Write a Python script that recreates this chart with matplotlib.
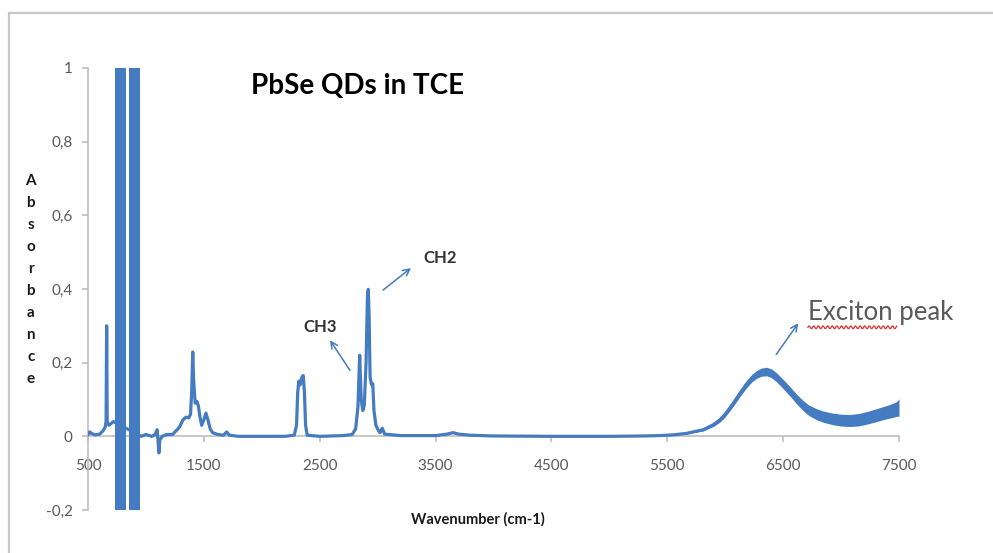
import numpy as np
import matplotlib
matplotlib.use("Agg")
import matplotlib.pyplot as plt
from matplotlib.patches import Rectangle

plt.rcParams['font.family'] = ['Lato', 'DejaVu Sans']

# FTIR spectrum of PbSe QDs in TCE (wavenumber in cm-1, absorbance)
wavenumber = [500, 515, 530, 560, 600, 630, 648, 656, 661, 666, 680, 700, 720,
              960, 1000, 1050, 1080, 1096, 1104, 1112, 1120, 1140, 1180, 1230,
              1260, 1290, 1320, 1345, 1370, 1385, 1395, 1404, 1412, 1425, 1440,
              1452, 1468, 1481, 1500, 1518, 1535, 1555, 1575, 1620, 1670, 1697,
              1720, 1800, 2000, 2200, 2280, 2300, 2310, 2320, 2332, 2345, 2358,
              2368, 2378, 2392, 2500, 2700, 2780, 2810, 2830, 2845, 2858, 2872,
              2885, 2900, 2912, 2919, 2926, 2935, 2948, 2958, 2968, 2985, 3000,
              3020, 3040, 3060, 3200, 3500, 3600, 3650, 3700, 3800, 4000, 4500,
              5000, 5300, 5437, 5550, 5667, 5811, 5900, 5955, 6000, 6070, 6130,
              6185, 6230, 6271, 6310, 6358, 6400, 6444, 6500, 6559, 6620, 6674,
              6720, 6789, 6850, 6933, 7000, 7077, 7150, 7221, 7300, 7364, 7420,
              7470, 7500]
absorbance = [0.005, 0.012, 0.008, 0.004, 0.006, 0.015, 0.025, 0.04, 0.30, 0.04,
              0.03, 0.035, 0.04,
              0.0, 0.005, 0.0, 0.005, 0.018, -0.01, -0.045, -0.01, 0.0, 0.005,
              0.005, 0.015, 0.025, 0.045, 0.052, 0.05, 0.06, 0.12, 0.229, 0.15,
              0.09, 0.095, 0.084, 0.05, 0.03, 0.045, 0.063, 0.045, 0.02, 0.01,
              0.005, 0.003, 0.012, 0.003, 0.0, 0.0, 0.0, 0.003, 0.03, 0.12, 0.15,
              0.14, 0.16, 0.165, 0.12, 0.03, 0.003, 0.0, 0.002, 0.005, 0.02, 0.08,
              0.22, 0.10, 0.07, 0.085, 0.2, 0.38, 0.399, 0.33, 0.16, 0.14, 0.143,
              0.07, 0.03, 0.02, 0.01, 0.022, 0.006, 0.002, 0.002, 0.006, 0.01,
              0.006, 0.003, 0.001, 0.0, 0.0, 0.001, 0.002, 0.004, 0.008, 0.018,
              0.032, 0.045, 0.06, 0.09, 0.118, 0.142, 0.158, 0.168, 0.174, 0.176,
              0.171, 0.16, 0.142, 0.122, 0.1, 0.083, 0.071, 0.06, 0.053, 0.047,
              0.044, 0.043, 0.045, 0.05, 0.057, 0.063, 0.068, 0.073, 0.078]

# noise envelope around the exciton band (half width, absorbance units)
noise_wn = [5600, 5800, 6000, 6200, 6400, 6600, 6800, 7000, 7200, 7400, 7480, 7500]
noise_half = [0.0, 0.003, 0.007, 0.01, 0.012, 0.013, 0.015, 0.016, 0.017, 0.018, 0.02, 0.024]

# saturated (off-scale) bands
saturated = [(729, 832), (858, 945)]

yticks = [-0.2, 0, 0.2, 0.4, 0.6, 0.8, 1]
ytick_labels = ['-0,2', '0', '0,2', '0,4', '0,6', '0,8', '1']
xticks = [500, 1500, 2500, 3500, 4500, 5500, 6500, 7500]

blue = '#457bc0'
axis_gray = '#bfbfbf'
label_gray = '#595959'

fig = plt.figure(figsize=(9.93, 5.53), dpi=100)
fig.patch.set_facecolor('white')
fig.add_artist(Rectangle((8.5 / 993, -0.1), 1.2, 1.1 - 13.5 / 553,
                         transform=fig.transFigure, fill=False,
                         edgecolor='#c8c8c8', lw=1.6))

ax = fig.add_axes([88 / 993, 1 - 510 / 553, 811 / 993, 442 / 553])
ax.set_xlim(500, 7500)
ax.set_ylim(-0.2, 1)

for lo, hi in saturated:
    ax.axvspan(lo, hi, color=blue, lw=0, zorder=3)

ax.plot(wavenumber, absorbance, color=blue, lw=2.3, zorder=4,
        solid_joinstyle='round')

# thicken the noisy exciton region
nw = np.linspace(noise_wn[0], noise_wn[-1], 500)
centre = np.interp(nw, wavenumber, absorbance)
half = np.interp(nw, noise_wn, noise_half)
ax.fill_between(nw, centre - half, centre + half, color=blue, lw=0, zorder=4)

# axes styling
for side in ['top', 'right']:
    ax.spines[side].set_visible(False)
ax.spines['bottom'].set_position(('data', 0))
ax.spines['bottom'].set_color(axis_gray)
ax.spines['left'].set_color(axis_gray)
ax.spines['bottom'].set_linewidth(1.2)
ax.spines['left'].set_linewidth(1.2)
ax.spines['bottom'].set_zorder(1)

ax.set_yticks(yticks)
ax.set_yticklabels(ytick_labels)
ax.set_xticks(xticks)
ax.tick_params(axis='both', colors=axis_gray, labelcolor=label_gray,
               labelsize=11, length=4, width=1.2, direction='out')
ax.tick_params(axis='y', pad=7)
ax.tick_params(axis='x', pad=12)

fig.text(0.36, 0.845, 'PbSe QDs in TCE', ha='center', va='center',
         fontsize=20, fontweight='bold', color='black')

fig.text(0.481, 0.06, 'Wavenumber (cm-1)', ha='center', va='center',
         fontsize=10.5, fontweight='bold', color='#1a1a1a')
fig.text(0.031, 0.494, '\n'.join('Absorbance'), ha='center', va='center',
         fontsize=11, fontweight='bold', color='#1a1a1a', linespacing=1.73)

# peak annotations
arrow = dict(arrowstyle='->', color=blue, lw=1.1, shrinkA=0, shrinkB=0,
             mutation_scale=12)
ax.annotate('', xy=(2589, 0.261), xytext=(2761, 0.179), arrowprops=arrow)
ax.text(2502, 0.296, 'CH3', ha='center', va='center', fontsize=12,
        fontweight='bold', color='#333333')
ax.annotate('', xy=(3288, 0.457), xytext=(3046, 0.397), arrowprops=arrow)
ax.text(3538, 0.484, 'CH2', ha='center', va='center', fontsize=12,
        fontweight='bold', color='#333333')
ax.annotate('', xy=(6630, 0.307), xytext=(6440, 0.222), arrowprops=arrow)
ax.text(6714, 0.337, 'Exciton peak', ha='left', va='center', fontsize=18.5,
        color=label_gray, clip_on=False)

# spell-check squiggle under "Exciton"
sx = np.linspace(6714, 7480, 120)
sy = 0.296 + 0.004 * np.sin((sx - 6714) / 40.0 * 2 * np.pi)
ax.plot(sx, sy, color='#e03030', lw=0.9, clip_on=False, zorder=5)

fig.savefig('out.png', dpi=100, facecolor='white')
